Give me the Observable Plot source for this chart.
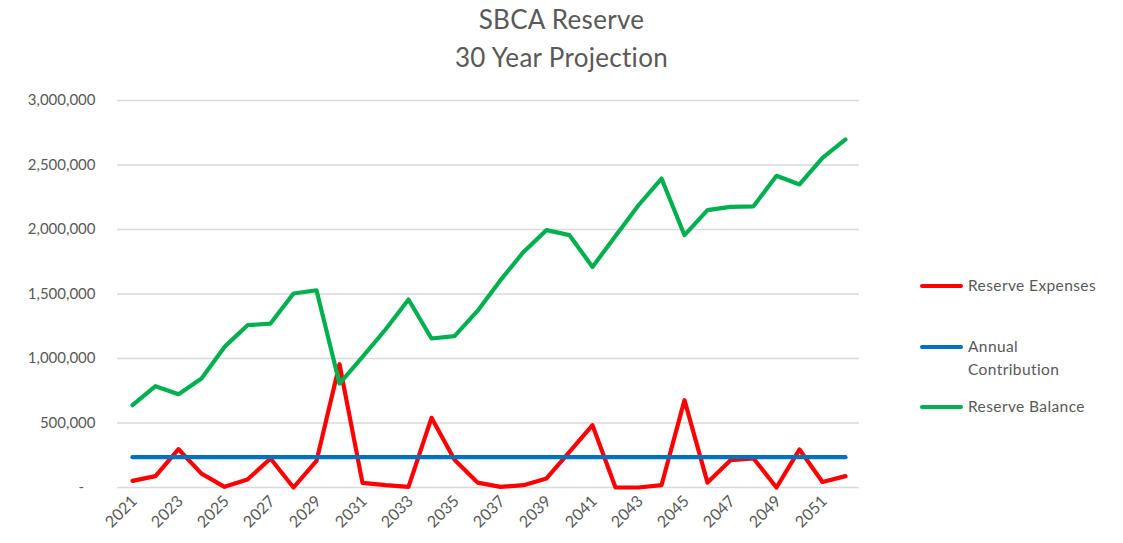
<!DOCTYPE html>
<html>
<head>
<meta charset="utf-8">
<script src="https://cdn.jsdelivr.net/npm/d3@7"></script>
<script src="https://cdn.jsdelivr.net/npm/@observablehq/plot@0.6"></script>
<style>
  html, body { margin: 0; padding: 0; background: #fff; }
  #wrap { position: relative; width: 1123px; height: 543px; font-family: Lato, "Open Sans", sans-serif; color: #595959; }
  #title { position: absolute; left: 0; top: 0; width: 1123px; text-align: center; font-size: 26px; line-height: 38px; padding-top: 0px; letter-spacing: 0.3px; }
  #chart { position: absolute; left: 0; top: 80px; }
  #legend { position: absolute; left: 920px; top: 0; font-size: 15.5px; letter-spacing: 0.4px; }
  .item { position: absolute; left: 0; white-space: nowrap; }
  .sw { position: absolute; left: 0; width: 43px; height: 4px; border-radius: 2px; }
  .lab { position: absolute; left: 48px; line-height: 23px; }
</style>
</head>
<body>
<div id="wrap">
  <div id="title">SBCA Reserve<br>30 Year Projection</div>
  <div id="chart"></div>
  <div id="legend"></div>
</div>
<script>
const years = d3.range(2021, 2053);
const seriesNames = ["Reserve Expenses", "Annual Contribution", "Reserve Balance"];
const seriesColors = ["#FF0000", "#0070C0", "#00B050"];
const expenses = [51000, 88000, 297000, 108000, 5000, 62000, 225000, 0, 206000, 956000,
  36000, 18000, 5000, 540000, 215000, 38000, 5000, 18000, 70000, 276000,
  483000, 0, 0, 18000, 677000, 38000, 211000, 225000, 0, 295000, 43000, 88000];
const contribution = years.map(() => 235000);
const balance = [638000, 785000, 723000, 845000, 1090000, 1258000, 1271000, 1504000, 1529000, 806000,
  1012000, 1225000, 1457000, 1155000, 1173000, 1369000, 1607000, 1826000, 1995000, 1956000,
  1710000, 1950000, 2188000, 2395000, 1956000, 2150000, 2175000, 2180000, 2416000, 2349000, 2555000, 2698000];
const yTicks = [0, 500000, 1000000, 1500000, 2000000, 2500000, 3000000];
const xTickLabels = years.filter((y, i) => i % 2 === 0);

const valuesBySeries = [expenses, contribution, balance];
const rows = [];
seriesNames.forEach((s, si) => years.forEach((y, i) => rows.push({series: s, year: y, value: valuesBySeries[si][i]})));

const plot = Plot.plot({
  width: 1123,
  height: 463,
  marginTop: 20,
  marginBottom: 56,
  marginLeft: 117,
  marginRight: 264,
  style: {fontFamily: "Lato, 'Open Sans', sans-serif", fontSize: "15px", color: "#595959", background: "#fff"},
  x: {type: "point", domain: years, padding: 0.5},
  y: {domain: [0, 3000000]},
  color: {domain: seriesNames, range: seriesColors},
  marks: [
    Plot.ruleY(yTicks, {stroke: "#D9D9D9", strokeWidth: 1.3, strokeOpacity: 1}),
    Plot.axisY({ticks: yTicks, tickSize: 0, tickPadding: 22, label: null, fontSize: 15,
      tickFormat: d => d === 0 ? "-\u00A0\u00A0\u00A0" : d3.format(",")(d), fill: "#595959"}),
    Plot.axisX({ticks: xTickLabels, tickFormat: d => String(d), tickSize: 0, tickPadding: 8, tickRotate: -45,
      label: null, fill: "#595959", fontSize: 16, dy: 3, dx: 2}),
    Plot.line(rows, {x: "year", y: "value", z: "series", stroke: "series", strokeWidth: 4.2, strokeLinejoin: "round", strokeLinecap: "round"})
  ]
});
document.getElementById("chart").appendChild(plot);

const legend = document.getElementById("legend");
const legendRows = [
  {name: "Reserve Expenses", lines: ["Reserve Expenses"], y: 286},
  {name: "Annual Contribution", lines: ["Annual", "Contribution"], y: 347},
  {name: "Reserve Balance", lines: ["Reserve Balance"], y: 407}
];
legendRows.forEach((r, i) => {
  const item = document.createElement("div");
  item.className = "item";
  item.style.top = r.y + "px";
  const sw = document.createElement("div");
  sw.className = "sw";
  sw.style.top = "-2px";
  sw.style.background = seriesColors[seriesNames.indexOf(r.name)];
  const lab = document.createElement("div");
  lab.className = "lab";
  lab.style.top = "-12px";
  lab.innerHTML = r.lines.join("<br>");
  item.appendChild(sw);
  item.appendChild(lab);
  legend.appendChild(item);
});
</script>
</body>
</html>
